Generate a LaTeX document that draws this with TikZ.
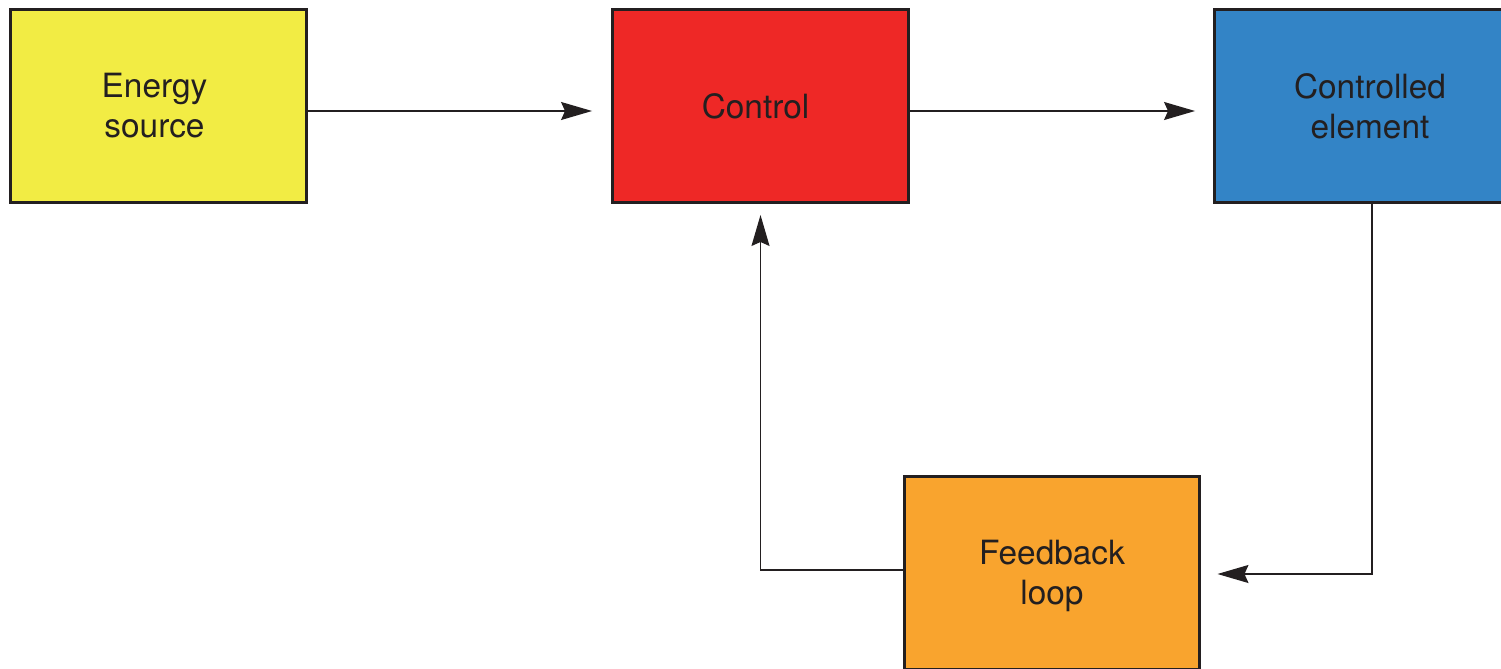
\documentclass[tikz,border=0pt]{standalone}
\usepackage{fontspec}
\setmainfont{TeX Gyre Heros}
\usetikzlibrary{arrows.meta,calc}

\definecolor{inkdark}{HTML}{231F20}
\definecolor{boxyellow}{HTML}{F2EC44}
\definecolor{boxred}{HTML}{EE2826}
\definecolor{boxblue}{HTML}{3384C6}
\definecolor{boxorange}{HTML}{F9A42E}

\tikzset{
  block/.style={draw=inkdark, line width=0.06cm, rectangle,
    minimum width=5.92cm, minimum height=3.86cm, align=center,
    text=inkdark, font=\fontsize{19}{22.7}\selectfont, inner sep=0pt},
  flow/.style={draw=inkdark, line width=0.8pt,
    -{Stealth[length=0.62cm, width=0.36cm, inset=0.08cm]}},
}

\begin{document}
\begin{tikzpicture}[x=0.02cm, y=-0.02cm]
  \useasboundingbox (0,0) rectangle (1501,669);
  \clip (0,0) rectangle (1501,669);

  % blocks of the control loop
  \node[block, fill=boxyellow] (E) at (158.5,106) {Energy\hspace*{0.16cm}\\source\hspace*{0.16cm}};
  \node[block, fill=boxred] (C) at (760.5,106) {Control\hspace*{0.2cm}};
  \node[block, fill=boxblue, minimum width=6.3cm] (CE) at (1372,106) {Controlled\hspace*{0.08cm}\\element\hspace*{0.08cm}};
  \node[block, fill=boxorange] (F) at (1052,573) {\rule{0pt}{0.6cm}Feedback\\loop};

  % forward path
  \draw[flow, shorten >=0.38cm] ($(E.east)+(0,5)$) -- ($(C.west)+(0,5)$);
  \draw[flow, shorten >=0.36cm] ($(C.east)+(0,5)$) -- ($(CE.west)+(0,5)$);

  % return path through the feedback block
  \draw[flow, shorten >=0.32cm] (CE.south) |- ($(F.east)+(0,1)$);
  \draw[flow, shorten >=0.22cm] ($(F.west)+(0,-3)$) -| (C.south);
\end{tikzpicture}
\end{document}
